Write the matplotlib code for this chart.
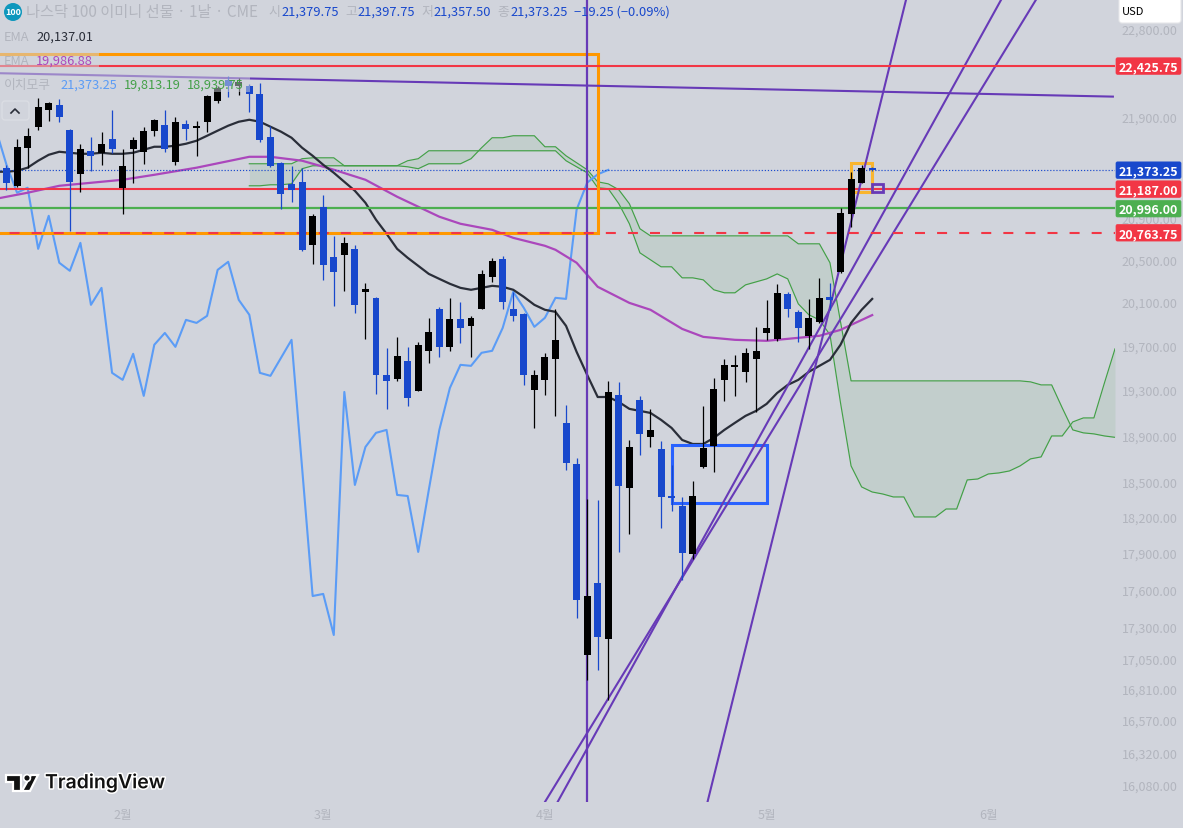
import numpy as np
import matplotlib
matplotlib.use('Agg')
import matplotlib.pyplot as plt
from matplotlib.patches import Rectangle, FancyBboxPatch, Circle, Polygon
from matplotlib.lines import Line2D
from matplotlib.ticker import NullLocator
from matplotlib.transforms import Affine2D
import matplotlib.patheffects as pe

plt.rcParams['font.family'] = ['Noto Sans CJK KR', 'DejaVu Sans']

# daily candles, first bar is index 0
opens = [21395, 21217, 21593, 21804, 21976, 22027, 21774, 21335, 21563, 21543, 21683, 21198, 21583, 21553, 21764, 21824,
         21454, 21834, 21794, 21854, 22068, 22283, 22221, 22221, 22139, 21703, 21444, 21237, 21256, 20646, 21012, 20532,
         20551, 20608, 20203, 20147, 19443, 19407, 19569, 19299, 19660, 20045, 19696, 19952, 19888, 20045, 20343, 20514,
         20045, 19998, 19308, 19398, 19587, 19017, 18660, 17083, 17661, 17210, 19263, 18453, 19219, 18893, 18789, 18385,
         18301, 17899, 18634, 18815, 19398, 19515, 19470, 19587, 19823, 19769, 20184, 20017, 19797, 19925, 20156, 20390,
         20944, 21247, 21379.75]
highs = [21424, 21683, 21794, 22098, 22057, 22088, 21780, 21633, 21703, 21754, 21976, 21583, 21703, 21804, 21885, 21976,
         21905, 21874, 21864, 22129, 22222, 22324, 22304, 22242, 22252, 21814, 21454, 21414, 21395, 20944, 21129, 20732,
         20723, 20646, 20287, 20156, 19687, 19787, 19696, 19742, 19962, 20063, 20147, 20109, 19980, 20409, 20523, 20542,
         20203, 20008, 19488, 19642, 20045, 19175, 18711, 18360, 18351, 19389, 19380, 18867, 19255, 19140, 18858, 18651,
         18377, 18513, 19166, 19416, 19587, 19624, 19687, 19879, 20128, 20278, 20203, 20036, 20137, 20334, 20287, 21002,
         21355, 21424, 21397.75]
lows = [21178, 21210, 21395, 21774, 21864, 21854, 20780, 21159, 21365, 21424, 21543, 20944, 21247, 21434, 21713, 21553,
        21424, 21673, 21513, 21754, 22047, 22109, 22129, 21955, 21653, 21404, 20993, 21061, 20590, 20466, 20315, 20072,
        20213, 20008, 19769, 19272, 19140, 19389, 19166, 19299, 19551, 19605, 19660, 19733, 19605, 20045, 20296, 20045,
        19934, 19353, 18972, 19264, 19078, 18608, 17378, 16887, 16965, 16732, 17916, 18065, 18737, 18806, 18116, 18259,
        17686, 17858, 18625, 18591, 19210, 19255, 19380, 19113, 19760, 19751, 19971, 19742, 19678, 19915, 20036, 20381,
        20819, 21247, 21357.50]
closes = [21247, 21603, 21713, 22006, 22047, 21905, 21256, 21583, 21513, 21633, 21583, 21414, 21673, 21764, 21874, 21583,
          21854, 21784, 21814, 22119, 22201, 22221, 22262, 22139, 21673, 21414, 21139, 21178, 20599, 20925, 20456, 20390,
          20665, 20082, 20231, 19443, 19389, 19614, 19237, 19715, 19833, 19696, 19952, 19869, 19962, 20371, 20495, 20109,
          19980, 19443, 19443, 19605, 19760, 18668, 17523, 17555, 17226, 19290, 18470, 18806, 18920, 18955, 18377, 18368,
          17907, 18385, 18797, 19317, 19533, 19524, 19642, 19660, 19869, 20194, 20045, 19869, 19962, 20147, 20128, 20954,
          21286, 21395, 21373.25]

# EMA 20, starts one bar left of the first candle
ema20 = [21355, 21355, 21365, 21395, 21464, 21523, 21553, 21543, 21533, 21533, 21543, 21533, 21533, 21543, 21573, 21603,
         21603, 21613, 21633, 21663, 21713, 21764, 21814, 21854, 21874, 21854, 21804, 21754, 21693, 21593, 21513, 21424,
         21345, 21256, 21168, 21051, 20887, 20752, 20608, 20523, 20447, 20371, 20324, 20278, 20240, 20222, 20240, 20259,
         20250, 20222, 20156, 20082, 20036, 20017, 19888, 19651, 19443, 19245, 19245, 19201, 19140, 19122, 19104, 19043,
         18972, 18867, 18832, 18832, 18885, 18955, 19017, 19078, 19122, 19184, 19281, 19353, 19398, 19470, 19524, 19578,
         19715, 19915, 20036, 20137]

# EMA 50, only the bars where the line bends
ema50_idx = [-1, 2, 5, 11, 14, 18, 23, 25, 28, 31, 34, 37, 41, 43, 46, 48, 51, 52, 54, 56, 59, 61, 64, 66, 69, 72, 74, 77,
             79, 80, 82]
ema50 = [21090, 21149, 21217, 21276, 21325, 21395, 21503, 21503, 21464, 21375, 21276, 21110, 20916, 20848, 20790, 20713,
         20637, 20599, 20476, 20250, 20100, 20036, 19860, 19787, 19760, 19751, 19769, 19797, 19851, 19897, 19987]

# ichimoku lagging span, also starts at bar -1
lagging = [21774, 21424, 21149, 21198, 20608, 20925, 20476, 20400, 20665, 20082, 20240, 19461, 19398, 19633, 19255, 19715,
           19823, 19696, 19943, 19915, 19980, 20409, 20485, 20128, 19990, 19461, 19434, 19596, 19760, 18625, 17555, 17572,
           17242, 19290, 18479, 18806, 18929, 18955, 18394, 18385, 17916, 18436, 18955, 19326, 19533, 19524, 19642, 19660,
           19869, 20203, 20054, 19879, 19962, 20147, 20137, 20983, 21247, 21330, 21373.25]

# ichimoku cloud, bars 23 to 105
span_a = [21217, 21217, 21227, 21227, 21237, 21385, 21414, 21414, 21414, 21414, 21414, 21414, 21414, 21414, 21414, 21404,
          21385, 21434, 21434, 21434, 21434, 21484, 21593, 21693, 21693, 21713, 21713, 21713, 21603, 21603, 21513, 21444,
          21375, 21256, 21236, 21178, 21042, 20800, 20732, 20732, 20732, 20732, 20732, 20732, 20732, 20732, 20732, 20732,
          20732, 20732, 20732, 20732, 20656, 20656, 20656, 20476, 19925, 19389, 19389, 19389, 19389, 19389, 19389, 19389,
          19389, 19389, 19389, 19389, 19389, 19389, 19389, 19389, 19389, 19389, 19380, 19353, 19353, 19149, 18955, 18929,
          18920, 18902, 18890]
span_b = [21434, 21434, 21434, 21434, 21434, 21484, 21493, 21493, 21493, 21414, 21414, 21414, 21414, 21414, 21414, 21464,
          21484, 21563, 21563, 21563, 21563, 21563, 21563, 21563, 21563, 21563, 21563, 21563, 21563, 21563, 21464, 21404,
          21345, 21198, 21188, 21042, 20848, 20570, 20504, 20438, 20438, 20334, 20334, 20315, 20222, 20194, 20194, 20268,
          20296, 20324, 20371, 20324, 20091, 19990, 19943, 19806, 19193, 18642, 18462, 18419, 18402, 18377, 18377, 18208,
          18208, 18208, 18275, 18275, 18522, 18530, 18573, 18582, 18599, 18642, 18703, 18720, 18902, 18902, 19025, 19060,
          19060, 19371, 19678]

price_ticks = [16080, 16320, 16570, 16810, 17050, 17300, 17600, 17900, 18200, 18500, 18900, 19300, 19700, 20100, 20500,
               20900, 21900, 22800]
month_ticks = [11, 30, 51, 72, 93]
month_labels = ['2월', '3월', '4월', '5월', '6월']

# levels and drawings
price_last = 21373.25
level_top = 22425.75
level_mid = 21187.00
level_green = 20996.00
level_dash = 20763.75
trend_a = ([51.0, 97.5], [15962, 23118])
trend_b = ([52.2, 94.2], [15962, 23118])
trend_c = ([66.4, 85.2], [15962, 23118])
trend_flat = ([-1, 104.8], [22350, 22109])
vline_bar = 55
orange_box = (-1, 56, 20764, 22552)
blue_box = (63, 72, 18326, 18824)
yellow_box = (80, 82, 21159, 21444)
purple_box = (82, 83, 21159, 21237)

BG = '#d1d4dc'
GREY = '#b2b5be'
UP = '#000000'
DOWN = '#1848cc'
PURPLE = '#673ab7'
RED = '#f23645'
GREEN = '#4caf50'
ORANGE = '#ff9800'

fig = plt.figure(figsize=(11.8301, 8.2801), dpi=100, facecolor=BG)
ax = fig.add_axes([0, 26 / 828, 1115 / 1183, 802 / 828], facecolor=BG)
ax.set_yscale('log')
ax.set_xlim(-0.615, 105)
ax.set_ylim(15962, 23118)
for s in ax.spines.values():
    s.set_visible(False)
ax.yaxis.tick_right()
ax.set_yticks(price_ticks)
ax.set_yticklabels(['{:,.2f}'.format(p) for p in price_ticks])
ax.yaxis.set_minor_locator(NullLocator())
ax.set_xticks(month_ticks)
ax.set_xticklabels(month_labels)
ax.tick_params(axis='y', length=0, pad=5, labelsize=9, labelcolor=GREY)
ax.tick_params(axis='x', length=0, pad=5, labelsize=9, labelcolor=GREY)

# pixel transform for things that belong to the screen, not the data
px = Affine2D().scale(1, -1).translate(0, 828)

# cloud
cloud_x = np.arange(23, 106)
ax.fill_between(cloud_x, span_a, span_b, color='#43a047', alpha=0.1, lw=0, zorder=1, interpolate=True)
ax.plot(cloud_x, span_a, color='#43a047', lw=0.85, zorder=1.5)
ax.plot(cloud_x, span_b, color='#43a047', lw=0.85, zorder=1.5)

# indicators
ax.plot(np.arange(-1, len(lagging) - 1), lagging, color='#5b9cf6', lw=1.5, zorder=2)
ax.plot(ema50_idx, ema50, color='#ab47bc', lw=1.6, zorder=2)
ax.plot(np.arange(-1, len(ema20) - 1), ema20, color='#2a2e39', lw=1.6, zorder=2)

# horizontal levels
ax.axhline(level_top, color=RED, lw=1.5, zorder=3.5)
ax.axhline(level_mid, color=RED, lw=1.5, zorder=3)
ax.axhline(level_green, color=GREEN, lw=1.6, zorder=3)
ax.axhline(price_last, color=DOWN, lw=0.85, ls=(0, (1, 1.6)), zorder=3)


def add_box(box, color, lw, zorder=3):
    x0, x1, y0, y1 = box
    ax.add_patch(Rectangle((x0, y0), x1 - x0, y1 - y0, fill=False, ec=color, lw=lw, zorder=zorder))


add_box(orange_box, ORANGE, 2.2)
ax.axhline(level_dash, color=RED, lw=1.5, ls=(6, (4.8, 5.8)), zorder=3.2)
add_box(blue_box, '#2962ff', 2.2)
add_box(yellow_box, '#f9b52e', 2.2)
add_box(purple_box, PURPLE, 2.0)

# trend lines
for xs, ys in [trend_a, trend_b, trend_c, trend_flat]:
    ax.plot(xs, ys, color=PURPLE, lw=1.5, zorder=3)
ax.axvline(vline_bar, color=PURPLE, lw=1.6, zorder=3)

# candles on top of everything
bars = np.arange(len(opens))
colors = [UP if c >= o else DOWN for o, c in zip(opens, closes)]
ax.vlines(bars, lows, highs, colors=colors, lw=0.9, zorder=5)
bottoms = np.minimum(opens, closes)
heights = np.maximum(np.abs(np.array(closes) - np.array(opens)), 16)
ax.bar(bars, heights, bottom=bottoms, width=0.66, color=colors, lw=0, zorder=5)

# legend rows wash out what is under them
ax.add_patch(Rectangle((0, 49), 99, 24, transform=px, color=BG, alpha=0.5, lw=0, zorder=6))
ax.add_patch(Rectangle((0, 73), 250, 19, transform=px, color=BG, alpha=0.5, lw=0, zorder=6))

# price labels on the scale
labels = [(level_top, RED), (price_last, DOWN), (level_mid, RED), (level_green, GREEN), (level_dash, RED)]
for val, col in labels:
    yp = 828 - ax.transData.transform((0, val))[1]
    ax.add_patch(FancyBboxPatch((1116, yp - 8), 65, 16.5, boxstyle='round,pad=0,rounding_size=1.5', transform=px, fc=col,
                                ec=col, lw=0.5, clip_on=False, zorder=9))
    ax.text(1148.5, yp + 0.3, '{:,.2f}'.format(val), transform=px, ha='center', va='center_baseline', color='white',
            fontsize=9, fontweight='bold', clip_on=False, zorder=10)

# USD button
fig.add_artist(FancyBboxPatch((1119, -6), 62, 29, boxstyle='round,pad=0,rounding_size=3', transform=px, fc='white',
                              ec='#e6e7ea', lw=0.8))
fig.text(1122 / 1183, 1 - 12 / 828, 'USD', fontsize=8, color='black', va='center', zorder=5)

# legend text
title_y = 1 - 12 / 828


def legend_text(x, y, s, color, size=10):
    fig.text(x / 1183, 1 - y / 828, s, color=color, fontsize=size, va='center', ha='left', zorder=5)


fig.add_artist(Circle((13, 12), 9, transform=px, fc='#0e97bd', ec='none'))
fig.text(13 / 1183, title_y, '100', color='white', fontsize=6.5, fontweight='bold', ha='center', va='center', zorder=5)
legend_text(26, 12, '나스닥 100 이미니 선물 · 1날 · CME', GREY, 11)
blue_val = '#1848cc'
for x_head, x_val, head, val in [(268, 281, '시', '21,379.75'), (345, 357, '고', '21,397.75'),
                                 (421, 433, '저', '21,357.50'), (497, 510, '종', '21,373.25')]:
    legend_text(x_head, 12, head, GREY, 9.3)
    legend_text(x_val, 12, val, blue_val, 9.3)
legend_text(574, 12, '−19.25 (−0.09%)', blue_val, 9.3)
legend_text(4, 37, 'EMA', GREY, 9.2)
legend_text(36, 37, '20,137.01', '#2a2e39', 9.2)
legend_text(4, 61, 'EMA', GREY, 9.2)
legend_text(36, 61, '19,986.88', '#ab47bc', 9.2)
legend_text(4, 85, '이치모쿠', GREY, 9.2)
legend_text(60, 85, '21,373.25', '#5b9cf6', 9.2)
legend_text(124, 85, '19,813.19', '#43a047', 9.2)
legend_text(187, 85, '18,939.75', '#43a047', 9.2)

# collapse button
fig.add_artist(FancyBboxPatch((2, 101), 27, 19, boxstyle='round,pad=0,rounding_size=3', transform=px, fc=BG,
                              ec='#dcdee4', lw=0.9))
fig.add_artist(Line2D([11, 15, 19], [113, 109, 113], transform=px, color='#2a2e39', lw=1.2))

# TradingView logo
stroke = dict(fc='#111111', ec='white', lw=1.6, transform=px, joinstyle='miter')
for shape in [[(6, 775), (21, 775), (21, 791), (13, 791), (13, 782), (6, 782)],
              [(31, 775), (38, 775), (30, 791), (22, 791)]]:
    fig.add_artist(Polygon(shape, closed=True, **stroke))
fig.add_artist(Circle((27, 778), 3.4, fc='#111111', ec='white', lw=1.2, transform=px))
fig.text(45 / 1183, 1 - 783 / 828, 'TradingView', family='Inter', fontweight='semibold', fontsize=14, color='#111111',
         va='center', ha='left', zorder=5, path_effects=[pe.withStroke(linewidth=2.2, foreground='white')])

fig.savefig('out.png', dpi=100, facecolor=BG)
